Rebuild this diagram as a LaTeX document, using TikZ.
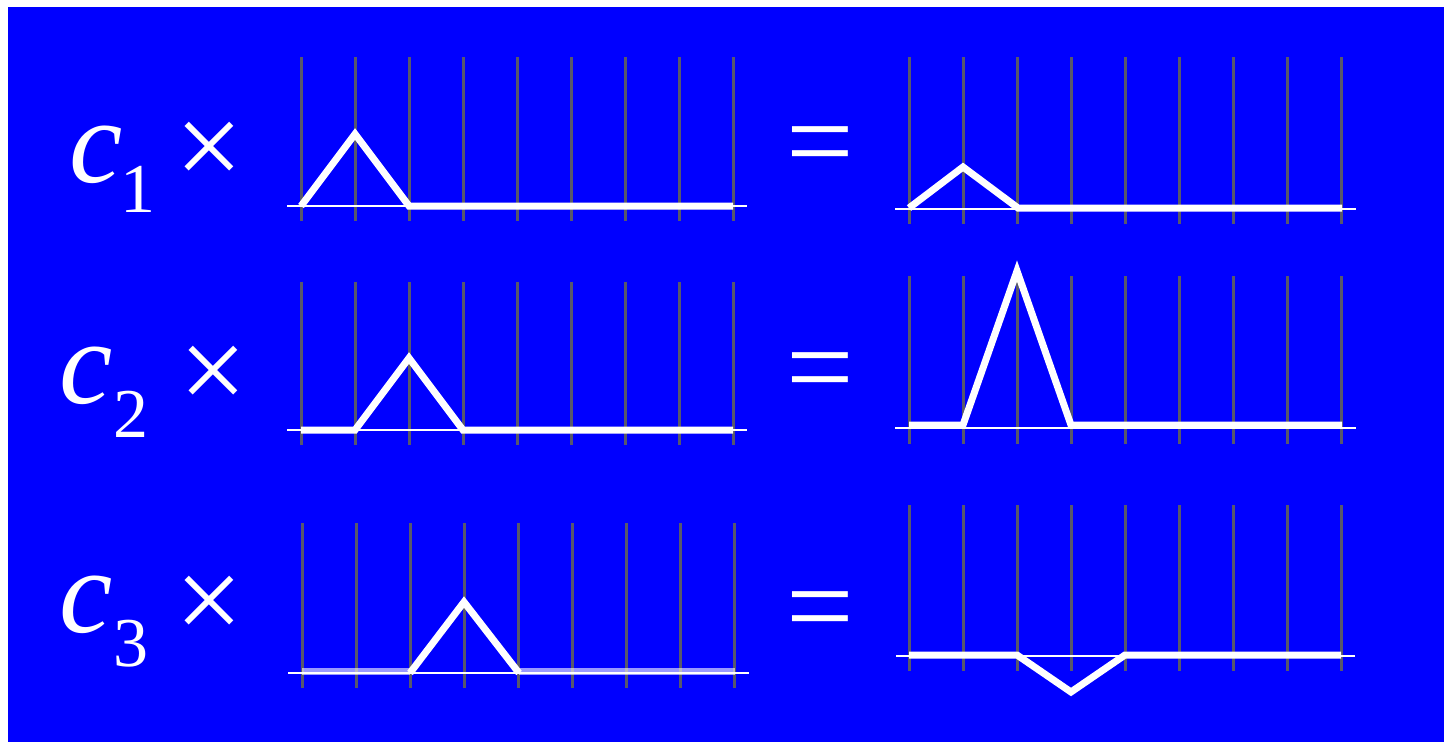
\documentclass[tikz,border=0pt]{standalone}
\usepackage{fontspec}
\setmainfont{Liberation Serif}
\definecolor{bg}{RGB}{0,0,255}
\definecolor{gridc}{RGB}{88,88,108}
\begin{document}
\begin{tikzpicture}[x=1pt,y=-1pt,
  gridline/.style={draw=gridc,line width=3pt},
  axisline/.style={draw=white,line width=2.5pt},
  curve/.style={draw=white,line width=7pt,line join=miter},
  softcurve/.style={draw=white,draw opacity=0.6,line width=7pt},
  lbl/.style={text=white,inner sep=0pt},
  bigfont/.style={font=\fontsize{120}{120}\selectfont}]
\useasboundingbox (0,0) rectangle (1444,742);
\fill[bg] (8,7) rectangle (1444,742);

% grid lines
\foreach \k in {0,...,8}{
  \draw[gridline] ({301+54*\k},57) -- ({301+54*\k},221);
  \draw[gridline] ({909+54.1*\k},57) -- ({909+54.1*\k},224);
  \draw[gridline] ({301+54*\k},282) -- ({301+54*\k},445);
  \draw[gridline] ({909+54.1*\k},276) -- ({909+54.1*\k},444);
  \draw[gridline] ({302+54.1*\k},523) -- ({302+54.1*\k},688);
  \draw[gridline] ({909+54*\k},505) -- ({909+54*\k},671);
}

% row 1
\draw[curve] (301,206) -- (355,134) -- (409,206) -- (733,206);
\draw[axisline] (287,206) -- (747,206);
\draw[curve] (909,208) -- (963,167) -- (1018,208) -- (1342,208);
\draw[axisline] (895,209) -- (1356,209);

% row 2
\draw[curve] (301,430) -- (355,430) -- (409,358) -- (463,430) -- (733,430);
\draw[axisline] (287,430) -- (747,430);
\draw[curve] (909,425) -- (963,425) -- (1017,271) -- (1071,425) -- (1342,425);
\draw[axisline] (895,428) -- (1356,428);

% row 3
\draw[softcurve] (302,671) -- (410,671);
\draw[softcurve] (519,671) -- (735,671);
\draw[curve] (410,673) -- (464,602) -- (519,673);
\draw[axisline] (288,673) -- (749,673);
\draw[curve] (909,655) -- (1017,655) -- (1071,692) -- (1125,655) -- (1341,655);
\draw[axisline] (896,656) -- (1355,656);

% labels
\node[lbl,anchor=base west] (c1) at (69,182)
  {\fontsize{120}{120}\selectfont\itshape c\kern-2pt\raisebox{-30pt}{\upshape\fontsize{70}{70}\selectfont 1}};
\node[lbl,anchor=base west] (c2) at (59,403)
  {\fontsize{120}{120}\selectfont\itshape c\kern1pt\raisebox{-34pt}{\upshape\fontsize{70}{70}\selectfont 2}};
\node[lbl,anchor=base west] (c3) at (59,632)
  {\fontsize{120}{120}\selectfont\itshape c\kern1pt\raisebox{-34pt}{\upshape\fontsize{70}{70}\selectfont 3}};

\node[lbl,bigfont] (x1) at (209,154) {×};
\node[lbl,bigfont] (x2) at (213,378) {×};
\node[lbl,bigfont] (x3) at (209,608) {×};

\node[lbl,bigfont] (e1) at (820,154) {=};
\node[lbl,bigfont] (e2) at (820,380) {=};
\node[lbl,bigfont] (e3) at (820,619) {=};
\end{tikzpicture}
\end{document}
